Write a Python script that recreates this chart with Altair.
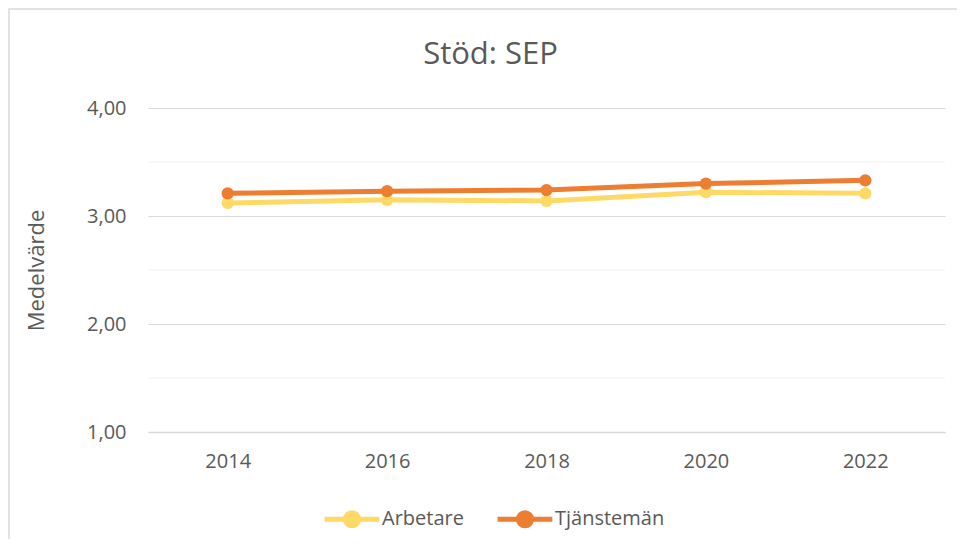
import altair as alt
import pandas as pd

years = ["2014", "2016", "2018", "2020", "2022"]
arbetare = [3.12, 3.15, 3.14, 3.22, 3.21]
tjanstemen = [3.21, 3.23, 3.24, 3.30, 3.33]
series_names = ["Arbetare", "Tjänstemän"]
series_colors = ["#FFD966", "#ED7D31"]
major_ticks = [1, 2, 3, 4]
minor_grid = [1.5, 2.5, 3.5]

rows = []
for name, vals in zip(series_names, [arbetare, tjanstemen]):
    for y, v in zip(years, vals):
        rows.append({"year": y, "value": v, "serie": name})
df = pd.DataFrame(rows)

FONT = "Open Sans"
TXT = "#595959"

x_enc = alt.X("year:O", scale=alt.Scale(type="point", padding=0.5, domain=years),
              axis=alt.Axis(title=None, labelAngle=0, labelFontSize=20, labelColor=TXT,
                            labelFont=FONT, labelPadding=19, ticks=False, domain=True,
                            domainColor="#D9D9D9", domainWidth=1.5, grid=False))
y_scale = alt.Scale(domain=[1, 4], nice=False, zero=False)
y_enc = alt.Y("value:Q", scale=y_scale,
              axis=alt.Axis(title="Medelvärde", values=major_ticks, titleFontSize=22,
                            titleColor=TXT, titleFont=FONT, titleFontWeight="normal",
                            titlePadding=38,
                            labelExpr="replace(format(datum.value, '.2f'), '.', ',')",
                            labelFontSize=20, labelColor=TXT, labelFont=FONT, labelPadding=22,
                            ticks=False, domain=False, grid=True, gridColor="#D9D9D9",
                            gridWidth=1.2))
color_enc = alt.Color("serie:N", scale=alt.Scale(domain=series_names, range=series_colors),
                      legend=alt.Legend(title=None, orient="none", direction="horizontal",
                                        legendX=174, legendY=381,
                                        labelFontSize=20, labelColor=TXT, labelFont=FONT,
                                        symbolType="M-1,0H1M0.24,0A0.24,0.24 0 1,1 -0.24,0A0.24,0.24 0 1,1 0.24,0",
                                        symbolSize=3000, symbolStrokeWidth=5,
                                        columnPadding=23, labelOffset=0))

minor = alt.Chart(pd.DataFrame({"g": minor_grid})).mark_rule(
    color="#F2F2F2", strokeWidth=1.2).encode(y=alt.Y("g:Q", scale=y_scale))

border = alt.Chart(pd.DataFrame({"a": [0]})).mark_rect(
    fill=None, stroke="#D9D9D9", strokeWidth=1.5).encode(
    x=alt.value(-139), x2=alt.value(830), y=alt.value(-99), y2=alt.value(460))

lines = alt.Chart(df).mark_line(strokeWidth=5).encode(x=x_enc, y=y_enc, color=color_enc)
points = alt.Chart(df).mark_point(filled=True, size=150, opacity=1).encode(
    x="year:O", y="value:Q", color=alt.Color("serie:N", legend=None,
                                             scale=alt.Scale(domain=series_names, range=series_colors)))

chart = alt.layer(border, minor, lines, points).properties(
    width=797, height=324,
    autosize=alt.AutoSizeParams(type="none"),
    padding={"left": 140, "top": 100, "right": 12, "bottom": 107},
    title=alt.TitleParams("Stöd: SEP", fontSize=31, font=FONT, color=TXT, fontWeight="normal",
                          anchor="middle", dx=-56, offset=0, dy=63),
).configure(background="white").configure_view(stroke=None)

chart.save("out.html", embed_options={"renderer": "svg", "actions": False})
